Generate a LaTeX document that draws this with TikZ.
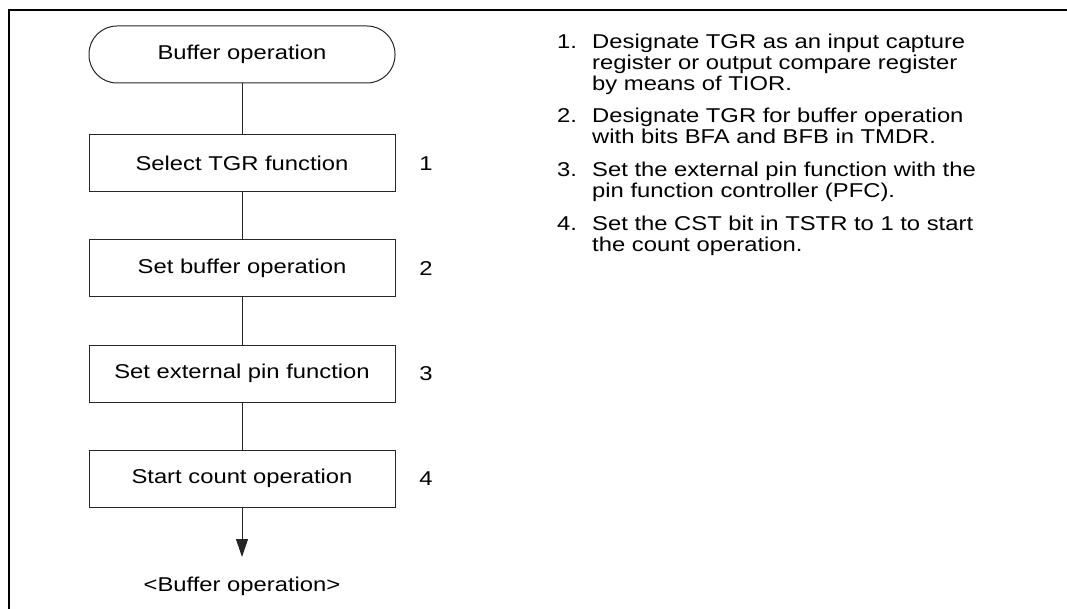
\documentclass[tikz,border=0pt]{standalone}
\usepackage{fontspec}
\setmainfont{Liberation Sans}[FakeStretch=1.19]
\usetikzlibrary{arrows.meta}
\newcommand{\notelines}[1]{\begin{tabular}[t]{@{}l@{}}#1\end{tabular}}
\begin{document}
\begin{tikzpicture}[x=1pt,y=-1pt,
  every node/.style={font=\fontsize{20}{21}\selectfont, inner sep=0pt, text=black},
  stepbox/.style={draw=black!85, line width=1pt, minimum width=306pt, minimum height=57pt},
  term/.style={draw=black!85, line width=1pt, rounded corners=28pt, minimum width=306pt, minimum height=57pt},
  link/.style={draw=black!85, line width=1pt},
  num/.style={anchor=base west},
  itemtxt/.style={anchor=base west}]
\useasboundingbox (0,0) rectangle (1067,609);
\draw[line width=2.5pt] (9,609) -- (9,10) -- (1067,10);
% flowchart
\node[term] (t) at (242,54.5) {Buffer operation};
\node[stepbox] (b1) at (242,163.5) {Select TGR function};
\node[stepbox] (b2) at (242,268.5) {Set buffer operation};
\node[stepbox] (b3) at (242,373.5) {Set external pin function};
\node[stepbox] (b4) at (242,478.5) {Start count operation};
\node (n1) at (426,163.5) {1};
\node (n2) at (426,268.5) {2};
\node (n3) at (426,373.5) {3};
\node (n4) at (426,478.5) {4};
\coordinate (tip) at (242,557);
\node (out) at (242,586) {<Buffer operation>};
\draw[link] (t) -- (b1);
\draw[link] (b1) -- (b2);
\draw[link] (b2) -- (b3);
\draw[link] (b3) -- (b4);
\draw[link,-{Triangle[length=18pt,width=12pt]}] (b4.south) -- (tip);
% notes
\node[num] (i1) at (557,49) {1.};
\node[itemtxt] (t1) at (592,49) {\notelines{Designate TGR as an input capture\\register or output compare register\\by means of TIOR.}};
\node[num] (i2) at (557,123) {2.};
\node[itemtxt] (t2) at (592,123) {\notelines{Designate TGR for buffer operation\\with bits BFA and BFB in TMDR.}};
\node[num] (i3) at (557,177) {3.};
\node[itemtxt] (t3) at (592,177) {\notelines{Set the external pin function with the\\pin function controller (PFC).}};
\node[num] (i4) at (557,231) {4.};
\node[itemtxt] (t4) at (592,231) {\notelines{Set the CST bit in TSTR to 1 to start\\the count operation.}};
\end{tikzpicture}
\end{document}
